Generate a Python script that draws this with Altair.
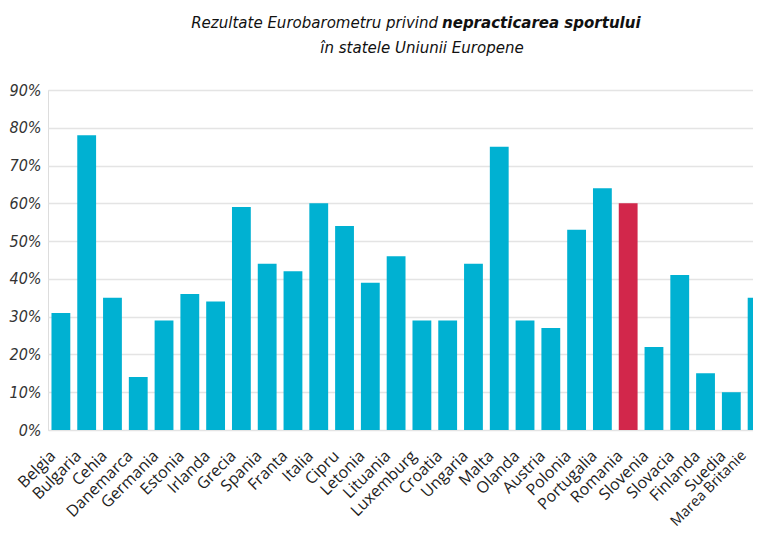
import altair as alt
import pandas as pd

countries = ["Belgia", "Bulgaria", "Cehia", "Danemarca", "Germania", "Estonia", "Irlanda",
             "Grecia", "Spania", "Franta", "Italia", "Cipru", "Letonia", "Lituania",
             "Luxemburg", "Croatia", "Ungaria", "Malta", "Olanda", "Austria", "Polonia",
             "Portugalia", "Romania", "Slovenia", "Slovacia", "Finlanda", "Suedia", "Marea Britanie"]
values = [31, 78, 35, 14, 29, 36, 34, 59, 44, 42, 60, 54, 39, 46,
          29, 29, 44, 75, 29, 27, 53, 64, 60, 22, 41, 15, 10, 35]
highlight = "Romania"
y_ticks = [0, 10, 20, 30, 40, 50, 60, 70, 80, 90]

title_normal = "Rezultate Eurobarometru privind "
title_bold = "nepracticarea sportului"
title_line2 = "în statele Uniunii Europene"

df = pd.DataFrame({"tara": countries, "val": values})

W = 705
H = 340
title_font = "DejaVu Sans Condensed"

last_test = "datum.value == 'Marea Britanie'"
label_size = {"condition": {"test": last_test, "value": 14.5}, "value": 16}
label_offset = {"condition": {"test": last_test, "value": -13}, "value": -8}

bars = alt.Chart(df).mark_bar().encode(
    x=alt.X("tara:N", sort=countries,
            scale=alt.Scale(paddingInner=0.27, paddingOuter=0.135, range=[0, 722]),
            axis=alt.Axis(title=None, labelAngle=-45, labelFontSize=label_size,
                          labelFont="Open Sans", labelColor="#222",
                          labelPadding=23, labelOffset=label_offset, ticks=False, domain=False,
                          labelAlign="right", labelBaseline="middle")),
    y=alt.Y("val:Q", scale=alt.Scale(domain=[0, 90], nice=False),
            axis=alt.Axis(title=None, values=y_ticks, labelExpr="datum.value + '%'",
                          labelFont=title_font, labelFontStyle="italic",
                          labelFontSize=16, labelColor="#333", labelPadding=7,
                          ticks=False, domain=False, gridColor="#e4e4e4",
                          gridWidth=1.5)),
    color=alt.condition(alt.datum.tara == highlight, alt.value("#d2274b"), alt.value("#00b1d2")),
)

t1 = alt.Chart(pd.DataFrame({"t": [title_normal]})).mark_text(
    align="right", baseline="alphabetic", font=title_font, fontStyle="italic",
    fontSize=16.7, color="#111"
).encode(x=alt.value(390), y=alt.value(-62), text="t:N")

t2 = alt.Chart(pd.DataFrame({"t": [title_bold]})).mark_text(
    align="left", baseline="alphabetic", font=title_font, fontStyle="italic",
    fontWeight="bold", fontSize=16.7, color="#111"
).encode(x=alt.value(394), y=alt.value(-62), text="t:N")

t3 = alt.Chart(pd.DataFrame({"t": [title_line2]})).mark_text(
    align="center", baseline="alphabetic", font=title_font, fontStyle="italic",
    fontSize=16.7, color="#111"
).encode(x=alt.value(374), y=alt.value(-37), text="t:N")

chart = alt.layer(bars, t1, t2, t3).properties(
    width=W, height=H,
    autosize=alt.AutoSizeParams(type="none"),
    padding={"top": 82, "left": 40, "right": 0, "bottom": 100}
).configure_view(stroke=None).configure(background="white")

chart.save("out.html", embed_options={"renderer": "svg", "actions": False})
